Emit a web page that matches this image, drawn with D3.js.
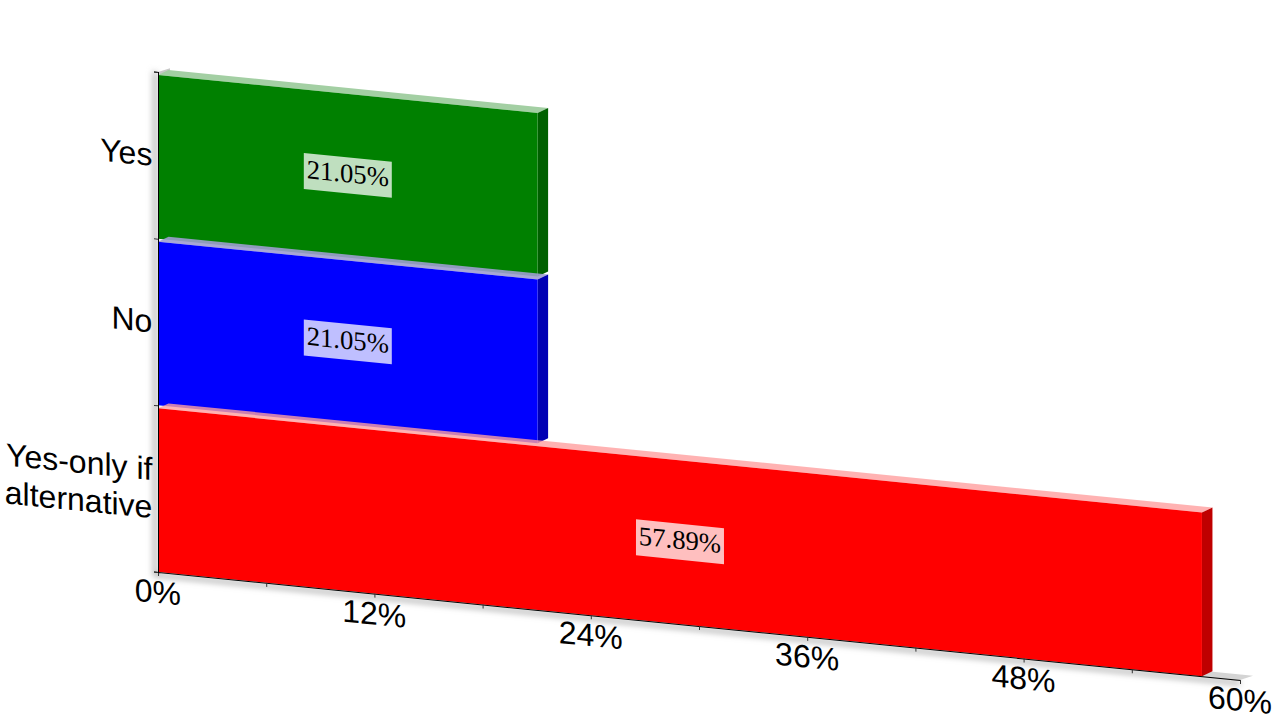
<!DOCTYPE html>
<html><head><meta charset="utf-8">
<script src="https://cdn.jsdelivr.net/npm/d3@7"></script>
<style>html,body{margin:0;padding:0;background:#fff}svg{display:block}
text{font-family:"Liberation Sans",Arial,sans-serif;fill:#000}
.domain{stroke:#000;stroke-width:1}
.tick line{stroke:#333;stroke-width:1}
</style></head><body>
<script>
const categories = ["Yes", "No", "Yes-only if alternative"];
const values = [21.05, 21.05, 57.89];
const valueLabels = ["21.05%", "21.05%", "57.89%"];
const frontColors = ["#008000", "#0000ff", "#ff0000"];
const sideColors = ["#006000", "#0000b4", "#bf0000"];
const topColors = ["#a3cfa3", "#9d9dd0", "#ff9f9f"];
const topOpacity = [1, 0.9, 0.8];
const xTicks = [0, 6, 12, 18, 24, 30, 36, 42, 48, 54, 60];
const xLabelled = [0, 12, 24, 36, 48, 60];

const W = 1280, H = 720;
const originX = 158, originY = 72, plotW = 1082, plotH = 500;
const shear = 0.0998, depthX = 10.5, depthY = -6, barInset = 3;

const svg = d3.select("body").append("svg").attr("width", W).attr("height", H);
const defs = svg.append("defs");
defs.append("filter").attr("id", "soft").attr("x", "-5%").attr("y", "-5%").attr("width", "110%").attr("height", "110%")
  .append("feGaussianBlur").attr("stdDeviation", 3);

const g = svg.append("g").attr("transform", `matrix(1,${shear},0,1,${originX},${originY})`);
const x = d3.scaleLinear().domain([0, 60]).range([0, plotW]);
const y = d3.scaleBand().domain(categories).range([0, plotH]);
const poly = pts => pts.map(p => p.join(",")).join(" ");

// soft shadow along the axes
g.append("path").attr("d", `M${x(0)-3},${y.range()[0]}V${plotH+3}H${x(60)}`)
  .attr("fill", "none").attr("stroke", "#aaa").attr("stroke-width", 4).attr("filter", "url(#soft)");

// floor and wall slivers
g.append("polygon").attr("fill", "#d4d4d4")
  .attr("points", poly([[x(0), plotH], [x(60), plotH], [x(60)+13, plotH-5.5], [x(0)+13, plotH-5.5]]));
g.append("polygon").attr("fill", "#c8c8c8")
  .attr("points", poly([[x(0), 0], [x(0)+12, -5], [x(0)+12, -2], [x(0)+2, 2]]));

// bars
const bars = g.selectAll("g.bar").data(categories).join("g").attr("class", "bar");
bars.each(function(c, i) {
  const s = d3.select(this);
  const x0 = x(0), x1 = x(values[i]);
  const yT = y(c) + barInset, yB = y(c) + y.bandwidth();
  s.append("polygon").attr("fill", topColors[i]).attr("fill-opacity", topOpacity[i])
    .attr("points", poly([[x0, yT], [x1, yT], [x1+depthX, yT+depthY], [x0+depthX, yT+depthY]]));
  s.append("polygon").attr("fill", sideColors[i])
    .attr("points", poly([[x1, yT], [x1+depthX, yT+depthY], [x1+depthX, yB+depthY], [x1, yB]]));
  s.append("rect").attr("x", x0).attr("y", yT).attr("width", x1-x0).attr("height", yB-yT)
    .attr("fill", frontColors[i]);
});

// value labels
bars.each(function(c, i) {
  const s = d3.select(this);
  const cx = x(values[i]) / 2, cy = y(c) + 1 + y.bandwidth()/2;
  s.append("rect").attr("x", cx-44).attr("y", cy-18).attr("width", 88).attr("height", 36)
    .attr("fill", "#fff").attr("fill-opacity", 0.75);
  s.append("text").attr("x", cx).attr("y", cy+7).attr("text-anchor", "middle")
    .style("font-family", '"Liberation Serif",serif').style("font-size", "26.7px").text(valueLabels[i]);
});

// x axis
const xAxis = d3.axisBottom(x).tickValues(xTicks).tickSize(4)
  .tickFormat(d => xLabelled.includes(d) ? d + "%" : "");
const xg = g.append("g").attr("transform", `translate(0,${plotH})`).call(xAxis);
xg.selectAll("text").attr("x", -0.6).attr("y", 4).attr("dy", "27px").style("font-size", "32px").style("font-family", '"Liberation Sans",sans-serif');

// y axis
const yTickScale = d3.scaleLinear().domain([0, 3]).range([0, plotH]);
const yg = g.append("g").call(d3.axisLeft(yTickScale).tickValues([0, 1, 2, 3]).tickSize(4).tickFormat(""));

// category labels
const catLines = [["Yes"], ["No"], ["Yes-only if", "alternative"]];
catLines.forEach((lines, i) => {
  const cy = y(categories[i]) + y.bandwidth()/2;
  lines.forEach((t, k) => {
    g.append("text").attr("x", -5.6).attr("text-anchor", "end")
      .attr("y", cy + 11 + (k - (lines.length-1)/2) * 38)
      .style("font-size", "32px").text(t);
  });
});
</script>
</body></html>
